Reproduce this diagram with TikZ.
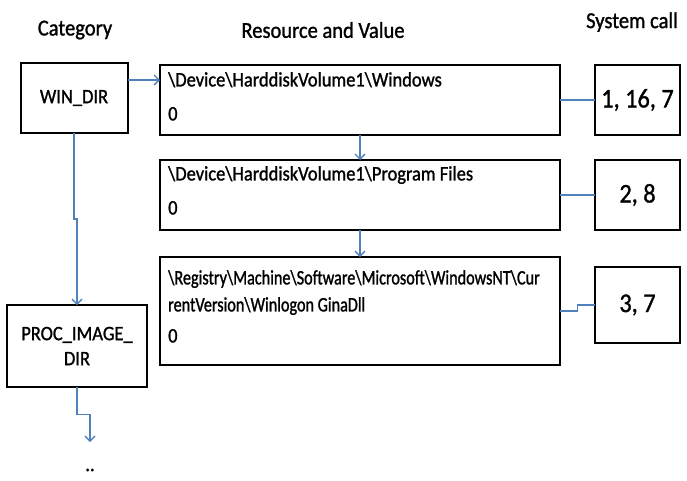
\documentclass[tikz,border=0pt]{standalone}
\usepackage{fontspec}
\setmainfont[FakeStretch=0.9,FakeBold=1.2]{Carlito}
\newfontfamily\narrowfont[FakeStretch=0.79,FakeBold=1.2]{Carlito}
\usetikzlibrary{arrows.meta,calc}
\definecolor{linkblue}{RGB}{79,129,189}
\tikzset{
  box/.style={draw=black, line width=2pt, inner sep=0pt, outer sep=0pt},
  headtext/.style={inner sep=0pt, font=\fontsize{22.8}{26}\selectfont},
  boxtext/.style={font=\fontsize{20.5}{24}\selectfont, align=center},
  valtext/.style={inner sep=0pt, anchor=mid west, font=\fontsize{20.5}{24}\selectfont},
  regtext/.style={inner sep=0pt, anchor=mid west, font=\narrowfont\fontsize{20.5}{24}\selectfont},
  calltext/.style={font=\fontsize{27}{30}\selectfont},
  conn/.style={draw=linkblue, line width=1.3pt},
  arr/.style={conn, -{Straight Barb[length=5pt,width=10pt,line width=1.3pt]}}
}
\begin{document}
\begin{tikzpicture}[x=1pt,y=-1pt]
\useasboundingbox (0,0) rectangle (687,480);

% column headings
\node[headtext] (hcat) at (75,30) {Category};
\node[headtext] (hres) at (323,30) {Resource and Value};
\node[headtext] (hsys) at (632,22) {System call};

% category boxes
\node[box, boxtext, minimum width=107pt, minimum height=70pt] (win) at (74,98) {WIN\_DIR};
\node[box, boxtext, minimum width=140pt, minimum height=82pt] (proc) at (77,346) {PROC\_IMAGE\_\\[1pt]DIR};
\coordinate (dend) at (90,442);
\node[inner sep=0pt, font=\fontsize{20.5}{24}\selectfont] (dots) at (90,470) {..};

% resource boxes
\node[box, minimum width=400pt, minimum height=70pt] (r1) at (360,100) {};
\node[box, minimum width=400pt, minimum height=70pt] (r2) at (360,195) {};
\node[box, minimum width=400pt, minimum height=108pt] (r3) at (360,311) {};

\node[valtext] (r1a) at (168,84) {\textbackslash Device\textbackslash HarddiskVolume1\textbackslash Windows};
\node[valtext] (r1b) at (168,118) {0};
\node[valtext] (r2a) at (168,178) {\textbackslash Device\textbackslash HarddiskVolume1\textbackslash Program Files};
\node[valtext] (r2b) at (168,212) {0};
\node[regtext] (r3a) at (168,282) {\textbackslash Registry\textbackslash Machine\textbackslash Software\textbackslash Microsoft\textbackslash WindowsNT\textbackslash Cur};
\node[regtext] (r3b) at (168,309) {rentVersion\textbackslash Winlogon GinaDll};
\node[valtext] (r3c) at (168,340) {0};

% system call boxes
\node[box, calltext, minimum width=85pt, minimum height=70pt] (s1) at (637.5,100) {1, 16, 7};
\node[box, calltext, minimum width=85pt, minimum height=70pt] (s2) at (637.5,195) {2, 8};
\node[box, calltext, minimum width=85pt, minimum height=76pt] (s3) at (637.5,305) {3, 7};

% connectors
\draw[arr] ([yshift=18pt]win.east) -- ([yshift=18pt]win.east -| r1.west);
\draw[arr] (r1) -- (r2);
\draw[arr] (r2) -- (r3);
\draw[conn] (r1.east) -- (s1.west);
\draw[conn] (r2.east) -- (s2.west);
\draw[conn] (r3.east) -| ($(r3.east)!0.5!(s3.west)$) |- (s3.west);
\draw[arr] (win.south) -- ($(win.south)!0.5!(win.south |- proc.north)$) -| (proc.north);
\draw[arr] (proc.south) -- ($(proc.south)!0.5!(proc.south |- dend)$) -| (dend);
\end{tikzpicture}
\end{document}
